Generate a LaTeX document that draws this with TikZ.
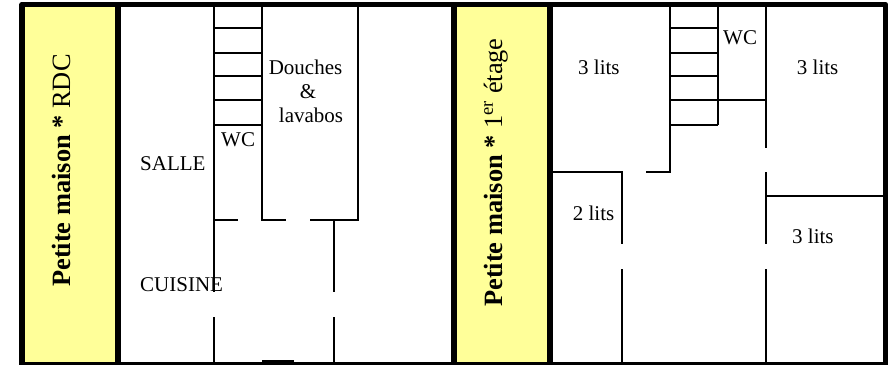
\documentclass[tikz,border=0pt]{standalone}
\usepackage{fontspec}
\setmainfont{Liberation Serif}
\definecolor{banner}{RGB}{255,255,153}
\newcommand{\drawthick}{\draw[line width=5.5pt,line join=round]}
\newcommand{\drawwall}{\draw[line width=2pt]}
\newcommand{\drawstairs}[2]{
    \foreach \y in {28,53,76,100,125}{
      \drawwall (#1,\y)--(#2,\y);
    }
}
\tikzset{
  room/.style={anchor=base west,inner sep=0pt,font=\fontsize{21}{24}\selectfont},
  title/.style={anchor=base west,inner sep=0pt,rotate=90,font=\fontsize{26.4}{30}\selectfont}
}
\begin{document}
\begin{tikzpicture}[x=1pt,y=-1pt]
\useasboundingbox (0,0) rectangle (893,364);
\fill[banner] (22,4.5) rectangle (118,364);
\fill[banner] (454,4.5) rectangle (550,364);
\drawwall (214,4)--(214,292);
\drawwall (214,317)--(214,363);
\drawwall (262,4)--(262,220)--(286,220);
\drawwall (214,220)--(238,220);
\drawwall (310,220)--(358,220)--(358,4);
\drawwall (334,220)--(334,292);
\drawwall (334,317)--(334,363);
\drawstairs{214}{262}
\draw[line width=3pt] (262,361.5)--(294,361.5);
\drawwall (670,4)--(670,172)--(646,172);
\drawwall (552,172)--(622,172)--(622,244);
\drawwall (622,269)--(622,363);
\drawwall (718,4)--(718,125);
\drawstairs{670}{718}
\drawwall (718,100)--(766,100);
\drawwall (766,4)--(766,148);
\drawwall (766,172)--(766,244);
\drawwall (766,269)--(766,363);
\drawwall (766,196)--(884,196);
\drawthick (22,4.5)--(885.5,4.5)--(885.5,364.5)--(22,364.5)--cycle;
\drawthick (118,4.5)--(118,364.5);
\drawthick (454,4.5)--(454,364.5);
\drawthick (550,4.5)--(550,364.5);
\node[title] (rdc) at (70,287) {\textbf{Petite maison *} RDC};
\node[title] (etage) at (502,307) {\textbf{Petite maison *} 1\textsuperscript{er} étage};
\node[room] (salle) at (140,170) {SALLE};
\node[room] (cuisine) at (140,291) {CUISINE};
\node[room] (wcbas) at (221,146.7) {WC};
\node[room,anchor=base] (douches) at (305.5,74) {Douches};
\node[room,anchor=base] (et) at (308,98) {\&};
\node[room,anchor=base] (lavabos) at (311,122.6) {lavabos};
\node[room] (litsa) at (578,74) {3 lits};
\node[room] (wchaut) at (723,44) {WC};
\node[room] (litsb) at (796.7,74) {3 lits};
\node[room] (litsc) at (572.7,220.3) {2 lits};
\node[room] (litsd) at (792,243) {3 lits};
\end{tikzpicture}
\end{document}
